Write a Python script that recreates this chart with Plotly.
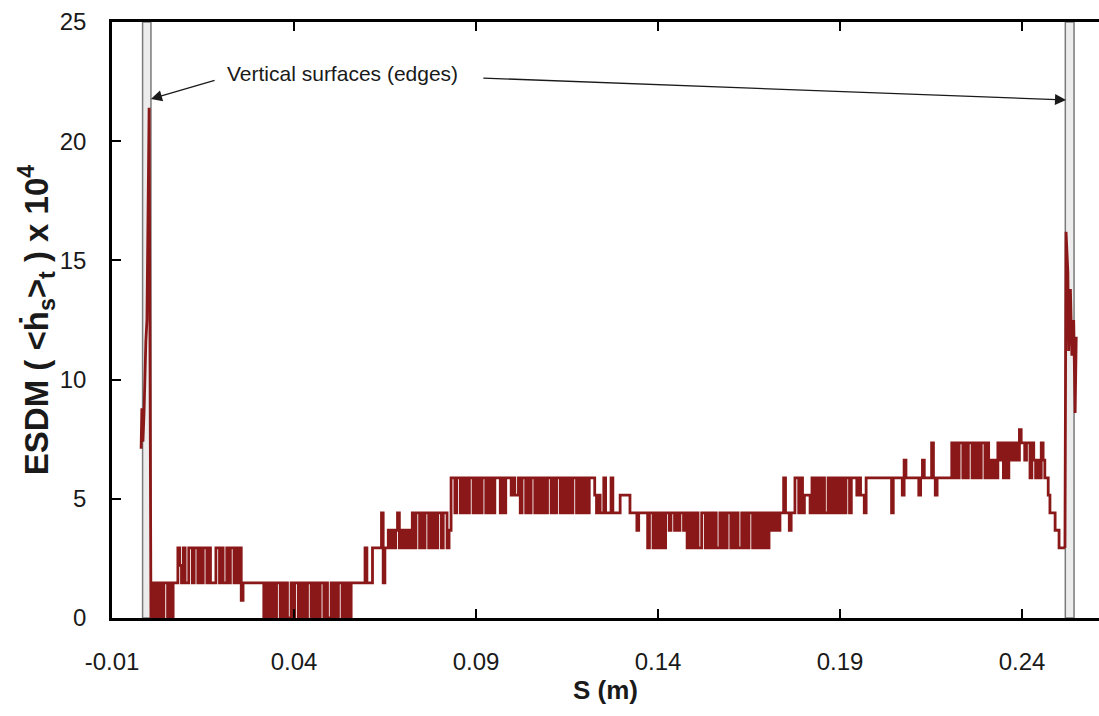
import plotly.graph_objects as go

# Quantised ESDM levels (x 10^4); each code character '0'..'b' indexes this table
LEVELS = [0.0, 0.74, 1.47, 2.21, 2.94, 3.68, 4.41, 5.15, 5.88, 6.62, 7.35, 7.9]

# Profile along the horizontal surface: segment start positions S (m) and level codes
SEG_START = [
    0.0007, 0.0073, 0.0081, 0.0265, 0.0312, 0.0562, 0.0590, 0.0631, 0.0659,
    0.0725, 0.0815, 0.0837, 0.1276, 0.1296, 0.1323, 0.1342, 0.1480, 0.1680,
    0.1740, 0.1771, 0.1823, 0.1936, 0.1982, 0.2037, 0.2051, 0.2202, 0.2359,
    0.2422, 0.2458, 0.2472, 0.2491,
]
SEG_END = 0.2518
SEG_CODES = [
    "0202020220202",
    "22",
    "4324224424424244242224424224244242412",
    "222222222",
    "20202020220202002022020202202020220200202022020202",
    "222222",
    "24222444",
    "446244",
    "5454564545454",
    "646646466464646646",
    "6458",
    "868868686886868688686868" "886868887877868"
    "8686886868686886868868686868868686868" "887676686668",
    "6666",
    "77777",
    "6666",
    "5666664664646464665665656656",
    "4646464466" "4646464464" "6466464644" "6464664646",
    "464646565656",
    "686656",
    "6886867776",
    "86868686686868686868868",
    "887877688",
    "88888888888",
    "868",
    "88887988888887898888a878888888",
    "8a8a8aa8a8aa8a8a8aa8a8" "9898a9a8a",
    "8a9a9a9baa9aa",
    "8a9898a",
    "988",
    "7666",
    "55444",
]

# Peaks on the two vertical surfaces (edges)
LEFT_EDGE_S = [-0.0020, -0.0018, -0.0015, -0.0012, -0.0007, -0.0004, 0.0002, 0.0007]
LEFT_EDGE_V = [7.1, 8.8, 7.4, 8.6, 11.6, 12.5, 21.4, 0.0]
RIGHT_EDGE_S = [0.2518, 0.2521, 0.2526, 0.2528, 0.2533, 0.2537, 0.2542, 0.2546, 0.2549]
RIGHT_EDGE_V = [2.94, 16.2, 14.5, 11.2, 13.8, 11.0, 12.5, 8.6, 11.8]

# Extent of the vertical surfaces along S (m)
EDGE_BANDS = [(-0.0016, 0.0007), (0.2519, 0.2543)]

X_TICKS = [-0.01, 0.04, 0.09, 0.14, 0.19, 0.24]
X_TICK_TEXT = ["-0.01", "0.04", "0.09", "0.14", "0.19", "0.24"]
Y_TICKS = [0, 5, 10, 15, 20, 25]

# Expand the coded segments into (S, ESDM) samples
s_vals, esdm_vals = [], []
for i, codes in enumerate(SEG_CODES):
    a = SEG_START[i]
    b = SEG_START[i + 1] if i + 1 < len(SEG_START) else SEG_END
    n = len(codes)
    for k, c in enumerate(codes):
        s_vals.append(a + (b - a) * k / n)
        esdm_vals.append(LEVELS[int(c, 16)])
s_vals.append(SEG_END)
esdm_vals.append(esdm_vals[-1])

LINE_COLOR = "#8b1818"
FONT = "Liberation Sans, Arial, sans-serif"

fig = go.Figure()
fig.add_trace(go.Scatter(x=LEFT_EDGE_S, y=LEFT_EDGE_V, mode="lines",
                         line=dict(color=LINE_COLOR, width=2.8)))
fig.add_trace(go.Scatter(x=s_vals, y=esdm_vals, mode="lines",
                         line=dict(color=LINE_COLOR, width=2.8, shape="hv")))
fig.add_trace(go.Scatter(x=RIGHT_EDGE_S, y=RIGHT_EDGE_V, mode="lines",
                         line=dict(color=LINE_COLOR, width=2.8)))

for x0, x1 in EDGE_BANDS:
    fig.add_shape(type="rect", xref="x", yref="paper", x0=x0, x1=x1, y0=0, y1=1,
                  fillcolor="#ececec", line=dict(color="#7a7a7a", width=1.5),
                  layer="below")

fig.add_annotation(x=0.0532, y=22.86, text="Vertical surfaces (edges)",
                   showarrow=False, font=dict(family=FONT, size=21, color="#1a1a1a"))
fig.add_annotation(x=0.0007, y=21.77, ax=0.0186, ay=22.57, axref="x", ayref="y",
                   text="", showarrow=True, arrowhead=2, arrowsize=1.7,
                   arrowwidth=1.3, arrowcolor="#1a1a1a")
fig.add_annotation(x=0.2521, y=21.73, ax=0.0916, ay=22.65, axref="x", ayref="y",
                   text="", showarrow=True, arrowhead=2, arrowsize=1.7,
                   arrowwidth=1.3, arrowcolor="#1a1a1a")

W, H = 1099, 716
ML, MT, MB = 112, 22, 98
px_per_m = 3640.0
x_max = -0.01 + (W - ML) / px_per_m

fig.update_layout(
    width=W, height=H,
    margin=dict(l=ML, r=0, t=MT, b=MB, autoexpand=False),
    plot_bgcolor="white", paper_bgcolor="white",
    showlegend=False,
    font=dict(family=FONT, color="#1a1a1a"),
    xaxis=dict(
        range=[-0.01, x_max], tickvals=X_TICKS, ticktext=X_TICK_TEXT,
        ticks="inside", ticklen=9, tickwidth=2, tickcolor="black",
        showline=True, linewidth=2.5, linecolor="black", mirror="allticks",
        showgrid=False, zeroline=False,
        tickfont=dict(size=24), ticklabelstandoff=20,
        title=dict(text="<b>S (m)</b>", font=dict(size=26), standoff=2),
    ),
    yaxis=dict(
        range=[0, 25], tickvals=Y_TICKS,
        ticks="inside", ticklen=9, tickwidth=2, tickcolor="black",
        showline=True, linewidth=2.5, linecolor="black",
        showgrid=False, zeroline=False,
        tickfont=dict(size=24), ticklabelstandoff=18,
        title=dict(text="<b>ESDM ( &lt;ḣ<sub>s</sub>&gt;<sub>t</sub> ) x 10<sup>4</sup></b>",
                   font=dict(size=33), standoff=2),
    ),
    yaxis2=dict(
        overlaying="y", side="right", range=[0, 25], tickvals=Y_TICKS,
        ticks="inside", ticklen=9, tickwidth=2, tickcolor="black",
        showticklabels=False, showline=False, showgrid=False, zeroline=False,
    ),
)

fig.write_html("out.html")
